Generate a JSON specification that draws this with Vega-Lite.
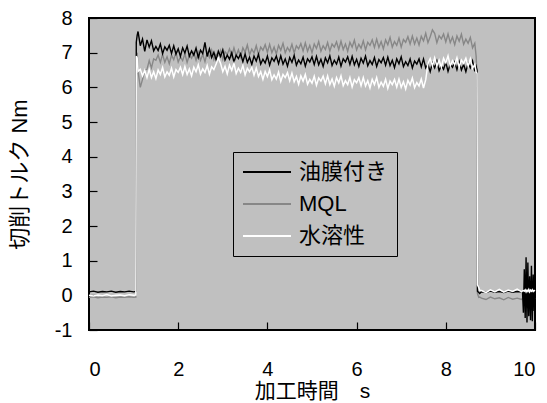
{
  "$schema": "https://vega.github.io/schema/vega-lite/v6.json",
  "width": 446,
  "height": 312,
  "autosize": "none",
  "padding": {"left": 89, "top": 18, "right": 12, "bottom": 73},
  "background": "white",
  "config": {
    "view": {"fill": "#c0c0c0", "stroke": "black", "strokeWidth": 2},
    "font": "Liberation Sans, Noto Sans CJK JP",
    "axis": {
      "domain": false,
      "grid": false,
      "zindex": 1,
      "tickColor": "black",
      "tickWidth": 1.2,
      "tickSize": -8,
      "labelColor": "black",
      "labelFont": "Liberation Sans",
      "labelFontSize": 20,
      "labelExpr": "'' + datum.value",
      "titleColor": "black",
      "titleFont": "Liberation Sans, Noto Sans CJK JP",
      "titleFontSize": 22,
      "titleFontWeight": "normal"
    }
  },
  "data": {
    "values": [
      {"t":0.0,"油膜付き":0.10,"MQL":-0.06,"水溶性":0.00},
      {"t":0.1,"油膜付き":0.12,"MQL":-0.04,"水溶性":-0.02},
      {"t":0.2,"油膜付き":0.09,"MQL":-0.07,"水溶性":0.01},
      {"t":0.3,"油膜付き":0.11,"MQL":-0.05,"水溶性":-0.01},
      {"t":0.4,"油膜付き":0.10,"MQL":-0.06,"水溶性":0.02},
      {"t":0.5,"油膜付き":0.12,"MQL":-0.04,"水溶性":-0.02},
      {"t":0.6,"油膜付き":0.09,"MQL":-0.07,"水溶性":0.00},
      {"t":0.7,"油膜付き":0.11,"MQL":-0.05,"水溶性":0.01},
      {"t":0.8,"油膜付き":0.10,"MQL":-0.06,"水溶性":-0.01},
      {"t":0.9,"油膜付き":0.12,"MQL":-0.04,"水溶性":0.02},
      {"t":1.0,"油膜付き":0.10,"MQL":-0.06,"水溶性":0.00},
      {"t":1.05,"油膜付き":0.11,"MQL":-0.05,"水溶性":0.01},
      {"t":1.06,"油膜付き":7.30,"MQL":6.8,"水溶性":6.9},
      {"t":1.08,"油膜付き":7.50,"MQL":7.0,"水溶性":6.85},
      {"t":1.10,"油膜付き":7.61,"MQL":6.46,"水溶性":6.46},
      {"t":1.15,"油膜付き":7.20,"MQL":6.00,"水溶性":6.52},
      {"t":1.20,"油膜付き":7.39,"MQL":6.23,"水溶性":6.33},
      {"t":1.25,"油膜付き":7.04,"MQL":6.50,"水溶性":6.49},
      {"t":1.30,"油膜付き":7.37,"MQL":6.52,"水溶性":6.28},
      {"t":1.35,"油膜付き":7.16,"MQL":6.77,"水溶性":6.52},
      {"t":1.40,"油膜付き":7.34,"MQL":6.56,"水溶性":6.28},
      {"t":1.45,"油膜付き":7.05,"MQL":6.82,"水溶性":6.45},
      {"t":1.50,"油膜付き":7.18,"MQL":6.78,"水溶性":6.25},
      {"t":1.55,"油膜付き":7.06,"MQL":6.93,"水溶性":6.50},
      {"t":1.60,"油膜付き":7.25,"MQL":6.72,"水溶性":6.37},
      {"t":1.65,"油膜付き":6.97,"MQL":6.95,"水溶性":6.57},
      {"t":1.70,"油膜付き":7.17,"MQL":6.72,"水溶性":6.30},
      {"t":1.75,"油膜付き":7.07,"MQL":6.88,"水溶性":6.45},
      {"t":1.80,"油膜付き":7.21,"MQL":6.68,"水溶性":6.35},
      {"t":1.85,"油膜付き":6.98,"MQL":6.93,"水溶性":6.55},
      {"t":1.90,"油膜付き":7.20,"MQL":6.80,"水溶性":6.30},
      {"t":1.95,"油膜付き":6.96,"MQL":7.00,"水溶性":6.51},
      {"t":2.00,"油膜付き":7.11,"MQL":6.73,"水溶性":6.43},
      {"t":2.05,"油膜付き":6.89,"MQL":6.88,"水溶性":6.58},
      {"t":2.10,"油膜付き":7.14,"MQL":6.77,"水溶性":6.37},
      {"t":2.15,"油膜付き":6.99,"MQL":6.97,"水溶性":6.60},
      {"t":2.20,"油膜付き":7.19,"MQL":6.72,"水溶性":6.37},
      {"t":2.25,"油膜付き":6.90,"MQL":6.93,"水溶性":6.53},
      {"t":2.30,"油膜付き":7.05,"MQL":6.84,"水溶性":6.33},
      {"t":2.35,"油膜付き":6.93,"MQL":7.00,"水溶性":6.58},
      {"t":2.40,"油膜付き":7.13,"MQL":6.78,"水溶性":6.45},
      {"t":2.45,"油膜付き":6.86,"MQL":7.01,"水溶性":6.65},
      {"t":2.50,"油膜付き":7.07,"MQL":6.78,"水溶性":6.38},
      {"t":2.55,"油膜付き":6.97,"MQL":6.95,"水溶性":6.53},
      {"t":2.60,"油膜付き":7.30,"MQL":6.74,"水溶性":6.43},
      {"t":2.65,"油膜付き":6.89,"MQL":7.00,"水溶性":6.63},
      {"t":2.70,"油膜付き":7.11,"MQL":6.86,"水溶性":6.38},
      {"t":2.75,"油膜付き":6.86,"MQL":7.07,"水溶性":6.59},
      {"t":2.80,"油膜付き":7.01,"MQL":6.80,"水溶性":6.51},
      {"t":2.85,"油膜付き":6.79,"MQL":6.96,"水溶性":6.67},
      {"t":2.90,"油膜付き":7.04,"MQL":6.85,"水溶性":6.85},
      {"t":2.95,"油膜付き":6.89,"MQL":7.06,"水溶性":6.69},
      {"t":3.00,"油膜付き":7.08,"MQL":6.81,"水溶性":6.45},
      {"t":3.05,"油膜付き":6.79,"MQL":7.03,"水溶性":6.61},
      {"t":3.10,"油膜付き":6.93,"MQL":6.95,"水溶性":6.39},
      {"t":3.15,"油膜付き":6.81,"MQL":7.11,"水溶性":6.64},
      {"t":3.20,"油膜付き":7.00,"MQL":6.90,"水溶性":6.49},
      {"t":3.25,"油膜付き":6.73,"MQL":7.14,"水溶性":6.69},
      {"t":3.30,"油膜付き":6.93,"MQL":6.91,"水溶性":6.40},
      {"t":3.35,"油膜付き":6.83,"MQL":7.08,"水溶性":6.55},
      {"t":3.40,"油膜付き":6.97,"MQL":6.88,"水溶性":6.43},
      {"t":3.45,"油膜付き":6.74,"MQL":7.14,"水溶性":6.63},
      {"t":3.50,"油膜付き":6.96,"MQL":7.01,"水溶性":6.36},
      {"t":3.55,"油膜付き":6.72,"MQL":7.22,"水溶性":6.55},
      {"t":3.60,"油膜付き":6.87,"MQL":6.94,"水溶性":6.45},
      {"t":3.65,"油膜付き":6.66,"MQL":7.10,"水溶性":6.58},
      {"t":3.70,"油膜付き":6.90,"MQL":6.99,"水溶性":6.35},
      {"t":3.75,"油膜付き":6.76,"MQL":7.20,"水溶性":6.56},
      {"t":3.80,"油膜付き":6.95,"MQL":6.94,"水溶性":6.31},
      {"t":3.85,"油膜付き":6.67,"MQL":7.16,"水溶性":6.45},
      {"t":3.90,"油膜付き":6.81,"MQL":7.07,"水溶性":6.23},
      {"t":3.95,"油膜付き":6.70,"MQL":7.23,"水溶性":6.46},
      {"t":4.00,"油膜付き":6.90,"MQL":7.01,"水溶性":6.31},
      {"t":4.05,"油膜付き":6.64,"MQL":7.24,"水溶性":6.50},
      {"t":4.10,"油膜付き":6.85,"MQL":7.00,"水溶性":6.22},
      {"t":4.15,"油膜付き":6.75,"MQL":7.16,"水溶性":6.36},
      {"t":4.20,"油膜付き":6.90,"MQL":6.96,"水溶性":6.24},
      {"t":4.25,"油膜付き":6.68,"MQL":7.21,"水溶性":6.44},
      {"t":4.30,"油膜付き":6.91,"MQL":7.07,"水溶性":6.17},
      {"t":4.35,"油膜付き":6.67,"MQL":7.27,"水溶性":6.37},
      {"t":4.40,"油膜付き":6.82,"MQL":7.00,"水溶性":6.28},
      {"t":4.45,"油膜付き":6.61,"MQL":7.15,"水溶性":6.42},
      {"t":4.50,"油膜付き":6.86,"MQL":7.04,"水溶性":6.19},
      {"t":4.55,"油膜付き":6.72,"MQL":7.24,"水溶性":6.41},
      {"t":4.60,"油膜付き":6.92,"MQL":6.99,"水溶性":6.16},
      {"t":4.65,"油膜付き":6.64,"MQL":7.20,"水溶性":6.31},
      {"t":4.70,"油膜付き":6.79,"MQL":7.11,"水溶性":6.09},
      {"t":4.75,"油膜付き":6.68,"MQL":7.26,"水溶性":6.33},
      {"t":4.80,"油膜付き":6.87,"MQL":7.05,"水溶性":6.18},
      {"t":4.85,"油膜付き":6.61,"MQL":7.28,"水溶性":6.37},
      {"t":4.90,"油膜付き":6.82,"MQL":7.04,"水溶性":6.09},
      {"t":4.95,"油膜付き":6.73,"MQL":7.21,"水溶性":6.23},
      {"t":5.00,"油膜付き":6.88,"MQL":7.00,"水溶性":6.12},
      {"t":5.05,"油膜付き":6.66,"MQL":7.25,"水溶性":6.32},
      {"t":5.10,"油膜付き":6.89,"MQL":7.12,"水溶性":6.06},
      {"t":5.15,"油膜付き":6.65,"MQL":7.32,"水溶性":6.27},
      {"t":5.20,"油膜付き":6.81,"MQL":7.04,"水溶性":6.18},
      {"t":5.25,"油膜付き":6.60,"MQL":7.20,"水溶性":6.32},
      {"t":5.30,"油膜付き":6.85,"MQL":7.09,"水溶性":6.10},
      {"t":5.35,"油膜付き":6.71,"MQL":7.29,"水溶性":6.33},
      {"t":5.40,"油膜付き":6.91,"MQL":7.04,"水溶性":6.08},
      {"t":5.45,"油膜付き":6.63,"MQL":7.25,"水溶性":6.24},
      {"t":5.50,"油膜付き":6.78,"MQL":7.16,"水溶性":6.03},
      {"t":5.55,"油膜付き":6.67,"MQL":7.31,"水溶性":6.28},
      {"t":5.60,"油膜付き":6.87,"MQL":7.09,"水溶性":6.13},
      {"t":5.65,"油膜付き":6.61,"MQL":7.33,"水溶性":6.33},
      {"t":5.70,"油膜付き":6.82,"MQL":7.09,"水溶性":6.05},
      {"t":5.75,"油膜付き":6.73,"MQL":7.25,"水溶性":6.19},
      {"t":5.80,"油膜付き":6.88,"MQL":7.04,"水溶性":6.08},
      {"t":5.85,"油膜付き":6.66,"MQL":7.30,"水溶性":6.28},
      {"t":5.90,"油膜付き":6.89,"MQL":7.16,"水溶性":6.01},
      {"t":5.95,"油膜付き":6.65,"MQL":7.36,"水溶性":6.22},
      {"t":6.00,"油膜付き":6.81,"MQL":7.08,"水溶性":6.13},
      {"t":6.05,"油膜付き":6.60,"MQL":7.24,"水溶性":6.28},
      {"t":6.10,"油膜付き":6.84,"MQL":7.13,"水溶性":6.05},
      {"t":6.15,"油膜付き":6.70,"MQL":7.34,"水溶性":6.28},
      {"t":6.20,"油膜付き":6.90,"MQL":7.08,"水溶性":6.04},
      {"t":6.25,"油膜付き":6.62,"MQL":7.30,"水溶性":6.19},
      {"t":6.30,"油膜付き":6.77,"MQL":7.21,"水溶性":5.98},
      {"t":6.35,"油膜付き":6.66,"MQL":7.37,"水溶性":6.23},
      {"t":6.40,"油膜付き":6.86,"MQL":7.15,"水溶性":6.08},
      {"t":6.45,"油膜付き":6.60,"MQL":7.39,"水溶性":6.28},
      {"t":6.50,"油膜付き":6.80,"MQL":7.15,"水溶性":6.00},
      {"t":6.55,"油膜付き":6.71,"MQL":7.32,"水溶性":6.15},
      {"t":6.60,"油膜付き":6.86,"MQL":7.11,"水溶性":6.03},
      {"t":6.65,"油膜付き":6.64,"MQL":7.37,"水溶性":6.23},
      {"t":6.70,"油膜付き":6.87,"MQL":7.23,"水溶性":5.97},
      {"t":6.75,"油膜付き":6.63,"MQL":7.44,"水溶性":6.18},
      {"t":6.80,"油膜付き":6.78,"MQL":7.16,"水溶性":6.08},
      {"t":6.85,"油膜付き":6.57,"MQL":7.32,"水溶性":6.23},
      {"t":6.90,"油膜付き":6.82,"MQL":7.21,"水溶性":6.01},
      {"t":6.95,"油膜付き":6.68,"MQL":7.42,"水溶性":6.24},
      {"t":7.00,"油膜付き":6.88,"MQL":7.16,"水溶性":6.00},
      {"t":7.05,"油膜付き":6.60,"MQL":7.38,"水溶性":6.16},
      {"t":7.10,"油膜付き":6.74,"MQL":7.30,"水溶性":5.95},
      {"t":7.15,"油膜付き":6.63,"MQL":7.46,"水溶性":6.20},
      {"t":7.20,"油膜付き":6.82,"MQL":7.25,"水溶性":6.07},
      {"t":7.25,"油膜付き":6.56,"MQL":7.48,"水溶性":6.27},
      {"t":7.30,"油膜付き":6.76,"MQL":7.25,"水溶性":5.99},
      {"t":7.35,"油膜付き":6.67,"MQL":7.42,"水溶性":6.14},
      {"t":7.40,"油膜付き":6.82,"MQL":7.22,"水溶性":6.04},
      {"t":7.45,"油膜付き":6.59,"MQL":7.47,"水溶性":6.24},
      {"t":7.50,"油膜付き":6.82,"MQL":7.34,"水溶性":5.98},
      {"t":7.55,"油膜付き":6.56,"MQL":7.56,"水溶性":6.22},
      {"t":7.60,"油膜付き":6.66,"MQL":7.29,"水溶性":6.68},
      {"t":7.65,"油膜付き":6.45,"MQL":7.46,"水溶性":6.83},
      {"t":7.70,"油膜付き":6.70,"MQL":7.66,"水溶性":6.62},
      {"t":7.75,"油膜付き":6.56,"MQL":7.56,"水溶性":6.85},
      {"t":7.80,"油膜付き":6.76,"MQL":7.29,"水溶性":6.62},
      {"t":7.85,"油膜付き":6.48,"MQL":7.49,"水溶性":6.78},
      {"t":7.90,"油膜付き":6.63,"MQL":7.40,"水溶性":6.58},
      {"t":7.95,"油膜付き":6.52,"MQL":7.54,"水溶性":6.84},
      {"t":8.00,"油膜付き":6.72,"MQL":7.31,"水溶性":6.71},
      {"t":8.05,"油膜付き":6.46,"MQL":7.54,"水溶性":6.91},
      {"t":8.10,"油膜付き":6.67,"MQL":7.29,"水溶性":6.62},
      {"t":8.15,"油膜付き":6.58,"MQL":7.45,"水溶性":6.77},
      {"t":8.20,"油膜付き":6.73,"MQL":7.23,"水溶性":6.65},
      {"t":8.25,"油膜付き":6.51,"MQL":7.48,"水溶性":6.85},
      {"t":8.30,"油膜付き":6.74,"MQL":7.33,"水溶性":6.58},
      {"t":8.35,"油膜付き":6.50,"MQL":7.53,"水溶性":6.79},
      {"t":8.40,"油膜付き":6.66,"MQL":7.24,"水溶性":6.69},
      {"t":8.45,"油膜付き":6.45,"MQL":7.39,"水溶性":6.84},
      {"t":8.50,"油膜付き":6.70,"MQL":7.27,"水溶性":6.61},
      {"t":8.55,"油膜付き":6.56,"MQL":7.44,"水溶性":6.82},
      {"t":8.60,"油膜付き":6.76,"MQL":7.14,"水溶性":6.55},
      {"t":8.65,"油膜付き":6.46,"MQL":7.27,"水溶性":6.66},
      {"t":8.68,"油膜付き":6.60,"MQL":6.90,"水溶性":6.45},
      {"t":8.70,"油膜付き":6.50,"MQL":6.30,"水溶性":6.40},
      {"t":8.71,"油膜付き":0.12,"MQL":0.05,"水溶性":0.30},
      {"t":8.74,"油膜付き":0.08,"MQL":-0.06,"水溶性":0.22},
      {"t":8.76,"油膜付き":0.05,"MQL":-0.05,"水溶性":0.15},
      {"t":8.80,"油膜付き":0.10,"MQL":-0.08,"水溶性":0.14},
      {"t":8.90,"油膜付き":0.08,"MQL":-0.12,"水溶性":0.08},
      {"t":9.00,"油膜付き":0.12,"MQL":-0.05,"水溶性":0.16},
      {"t":9.10,"油膜付き":0.09,"MQL":-0.10,"水溶性":0.10},
      {"t":9.20,"油膜付き":0.11,"MQL":-0.07,"水溶性":0.17},
      {"t":9.30,"油膜付き":0.08,"MQL":-0.13,"水溶性":0.09},
      {"t":9.40,"油膜付き":0.12,"MQL":-0.06,"水溶性":0.15},
      {"t":9.50,"油膜付き":0.09,"MQL":-0.11,"水溶性":0.11},
      {"t":9.60,"油膜付き":0.11,"MQL":-0.08,"水溶性":0.18},
      {"t":9.70,"油膜付き":0.10,"MQL":-0.12,"水溶性":0.10},
      {"t":9.72,"油膜付き":0.10,"MQL":-0.09,"水溶性":0.13},
      {"t":9.74,"油膜付き":-0.50,"MQL":-0.08,"水溶性":0.14},
      {"t":9.76,"油膜付き":0.75,"MQL":-0.10,"水溶性":0.12},
      {"t":9.78,"油膜付き":-0.65,"MQL":-0.07,"水溶性":0.16},
      {"t":9.80,"油膜付き":1.10,"MQL":-0.11,"水溶性":0.10},
      {"t":9.82,"油膜付き":-0.78,"MQL":-0.08,"水溶性":0.15},
      {"t":9.84,"油膜付き":0.95,"MQL":-0.12,"水溶性":0.11},
      {"t":9.86,"油膜付き":-0.60,"MQL":-0.07,"水溶性":0.17},
      {"t":9.88,"油膜付き":0.55,"MQL":-0.10,"水溶性":0.10},
      {"t":9.90,"油膜付き":-0.72,"MQL":-0.08,"水溶性":0.15},
      {"t":9.92,"油膜付き":0.85,"MQL":-0.12,"水溶性":0.12},
      {"t":9.94,"油膜付き":-0.75,"MQL":-0.07,"水溶性":0.16},
      {"t":9.96,"油膜付き":0.60,"MQL":-0.10,"水溶性":0.11},
      {"t":9.98,"油膜付き":-0.45,"MQL":-0.08,"水溶性":0.14},
      {"t":10.00,"油膜付き":0.20,"MQL":-0.10,"水溶性":0.12}
    ]
  },
  "encoding": {
    "x": {
      "field": "t",
      "type": "quantitative",
      "scale": {"domain": [0, 10], "nice": false, "zero": false},
      "axis": {"values": [0, 2, 4, 6, 8, 10], "labelPadding": 37, "title": "加工時間　s", "titleFontSize": 21, "titlePadding": 1}
    },
    "y": {
      "field": "v",
      "type": "quantitative",
      "scale": {"domain": [-1, 8], "nice": false, "zero": false},
      "axis": {"values": [-1, 0, 1, 2, 3, 4, 5, 6, 7, 8], "labelPadding": 25, "title": "切削トルク Nm", "titlePadding": 23}
    },
    "color": {
      "field": "series",
      "type": "nominal",
      "scale": {"domain": ["油膜付き", "MQL", "水溶性"], "range": ["#000000", "#878787", "#ffffff"]},
      "legend": {
        "orient": "none",
        "legendX": 144,
        "legendY": 134,
        "title": null,
        "symbolType": "M-1.25,0H4.75",
        "symbolSize": 256,
        "symbolStrokeWidth": 2,
        "labelOffset": 35,
        "labelFont": "Liberation Sans, Noto Sans CJK JP",
        "labelFontSize": 22,
        "labelColor": "black",
        "rowPadding": 10,
        "padding": 9,
        "strokeColor": "black",
        "fillColor": "#c0c0c0"
      }
    }
  },
  "layer": [
    {"transform": [{"fold": ["MQL"], "as": ["series", "v"]}], "mark": {"type": "line", "strokeWidth": 1.4}},
    {"transform": [{"fold": ["油膜付き"], "as": ["series", "v"]}], "mark": {"type": "line", "strokeWidth": 1.4}},
    {"transform": [{"fold": ["水溶性"], "as": ["series", "v"]}], "mark": {"type": "line", "strokeWidth": 1.5}}
  ]
}
